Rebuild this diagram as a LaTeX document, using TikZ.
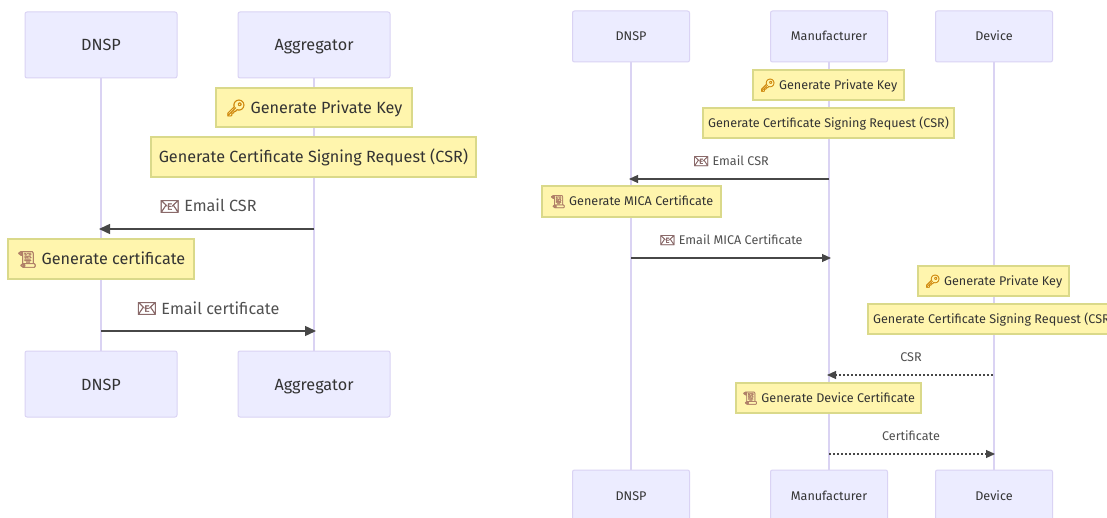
\documentclass[tikz,border=0pt]{standalone}
\usepackage{fontspec}
\setmainfont{Fira Sans}
\newfontfamily\emo[FakeBold=2.2]{Noto Emoji}
\usetikzlibrary{arrows.meta}
\definecolor{actorfill}{HTML}{ECECFF}
\definecolor{actorline}{HTML}{DAD3F4}
\definecolor{lifeline}{HTML}{DAD3F3}
\definecolor{notefill}{HTML}{FFF5AD}
\definecolor{noteline}{HTML}{DAD98A}
\definecolor{txt}{HTML}{333333}
\definecolor{lbl}{HTML}{505050}
\definecolor{keyc}{HTML}{D08A10}
\definecolor{scrollc}{HTML}{B08068}
\definecolor{mailc}{HTML}{8A6A6A}
\newcommand{\keyi}{{\emo\color{keyc}\symbol{"1F511}}}
\newcommand{\scri}{{\emo\color{scrollc}\symbol{"1F4DC}}}
\newcommand{\maili}{{\emo\color{mailc}\symbol{"1F4E7}}}
\tikzset{
 tl/.style={font=\fontsize{16.2}{18}\selectfont,text height=15.5pt,text depth=3.5pt},
 tr/.style={font=\fontsize{12.6}{14}\selectfont,text height=12pt,text depth=3pt},
 box/.style={draw=actorline,fill=actorfill,rounded corners=2pt,line width=1pt,inner sep=0pt,text=txt},
 boxL/.style={box,tl,minimum width=152pt,minimum height=66pt},
 boxR/.style={box,tr,minimum width=117pt,minimum height=51pt},
 note/.style={draw=noteline,fill=notefill,line width=1.3pt,inner sep=0pt,text=txt},
 noteL/.style={note,tl,minimum height=39pt},
 noteR/.style={note,tr,minimum height=30pt},
 life/.style={draw=lifeline,line width=2pt},
 msg/.style={draw=txt!90,line width=1.4pt,-{Triangle[length=11pt,width=10pt]}},
 msgR/.style={draw=txt!90,line width=1.1pt,-{Triangle[length=9pt,width=8pt]}},
 dot/.style={msgR,dash pattern=on 2pt off 2pt},
 lab/.style={text=lbl,inner sep=0pt},
 labL/.style={lab,tl},
 labR/.style={lab,tr},
}
\begin{document}
\begin{tikzpicture}[x=1pt,y=-1pt]
\useasboundingbox (0,0) rectangle (1107,518);
\clip (0,0) rectangle (1107,518);
\fill[white] (0,0) rectangle (1107,518);
% left diagram
\node[boxL] (d1) at (101,45) {DNSP};
\node[boxL] (a1) at (314,45) {Aggregator};
\node[boxL] (d2) at (101,384) {DNSP};
\node[boxL] (a2) at (314,384) {Aggregator};
\draw[life] (d1) -- (d2);
\draw[life] (a1) -- (a2);
\node[noteL,minimum width=196pt] (n1) at (314,107.5) {\keyi\ Generate Private Key};
\node[noteL,minimum width=325pt,minimum height=40pt] (n2) at (313.5,157) {Generate Certificate Signing Request (CSR)};
\node[noteL,minimum width=186pt,minimum height=40pt] (n3) at (101,259) {\scri\ Generate certificate};
\coordinate (p1) at (314,229);
\coordinate (p2) at (99,229);
\coordinate (p3) at (101,331);
\coordinate (p4) at (316,331);
\draw[msg] (p1) -- (p2);
\draw[msg] (p3) -- (p4);
\node[labL] (t1) at (208,206) {\maili\ Email CSR};
\node[labL] (t2) at (208,308) {\maili\ Email certificate};
% right diagram
\node[boxR] (rd1) at (631,36.5) {DNSP};
\node[boxR] (rm1) at (829,36.5) {Manufacturer};
\node[boxR] (rv1) at (994,36.5) {Device};
\node[boxR] (rd2) at (631,495.5) {DNSP};
\node[boxR] (rm2) at (829,495.5) {Manufacturer};
\node[boxR] (rv2) at (994,495.5) {Device};
\draw[life] (rd1) -- (rd2);
\draw[life] (rm1) -- (rm2);
\draw[life] (rv1) -- (rv2);
\node[noteR,minimum width=151pt] (m1) at (828.5,85) {\keyi\ Generate Private Key};
\node[noteR,minimum width=251pt] (m2) at (828.5,123) {Generate Certificate Signing Request (CSR)};
\node[noteR,minimum width=179pt,minimum height=31pt] (m3) at (631.5,201.5) {\scri\ Generate MICA Certificate};
\node[noteR,minimum width=151pt] (m4) at (993.5,281) {\keyi\ Generate Private Key};
\node[noteR,minimum width=251pt] (m5) at (993.5,319) {Generate Certificate Signing Request (CSR)};
\node[noteR,minimum width=185pt] (m6) at (828.5,398) {\scri\ Generate Device Certificate};
\coordinate (q1) at (829,179);
\coordinate (q2) at (629,179);
\coordinate (q3) at (631,258);
\coordinate (q4) at (831,258);
\coordinate (q5) at (993,375);
\coordinate (q6) at (827,375);
\coordinate (q7) at (829,454);
\coordinate (q8) at (995,454);
\draw[msgR] (q1) -- (q2);
\draw[msgR] (q3) -- (q4);
\draw[dot] (q5) -- (q6);
\draw[dot] (q7) -- (q8);
\node[labR] (u1) at (731,161) {\maili\ Email CSR};
\node[labR] (u2) at (731,240) {\maili\ Email MICA Certificate};
\node[labR] (u3) at (911,357) {CSR};
\node[labR] (u4) at (911,436) {Certificate};
\end{tikzpicture}
\end{document}
